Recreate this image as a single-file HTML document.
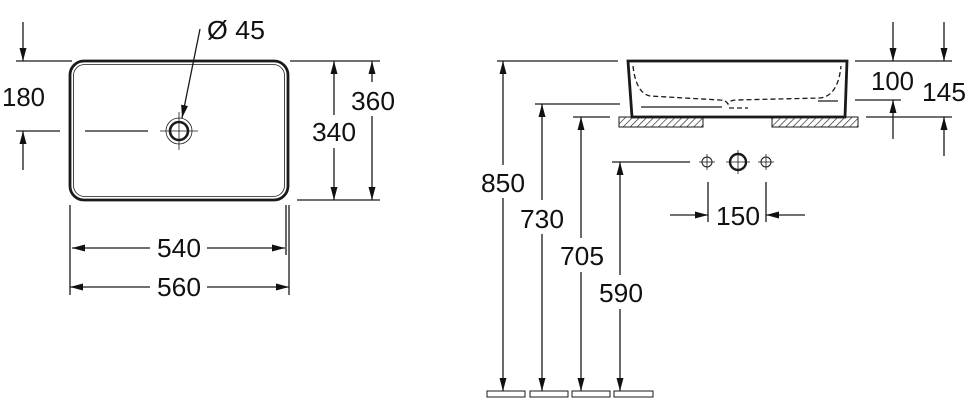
<!DOCTYPE html>
<html><head><meta charset="utf-8"><style>
html,body{margin:0;padding:0;background:#fff;width:970px;height:408px;overflow:hidden}
svg text{font-family:"Liberation Sans",sans-serif;font-size:26px;fill:#111}
</style></head><body>
<svg width="970" height="408" viewBox="0 0 970 408" xmlns="http://www.w3.org/2000/svg">
<defs>
<marker id="a" viewBox="0 0 13 7" refX="13" refY="3.5" markerWidth="13" markerHeight="7" markerUnits="userSpaceOnUse" orient="auto"><path d="M0,0 L13,3.5 L0,7 z" fill="#111"/></marker>
<pattern id="h" width="5" height="5" patternUnits="userSpaceOnUse" patternTransform="rotate(45)"><line x1="0" y1="0" x2="0" y2="5" stroke="#222" stroke-width="1.3"/></pattern>
</defs>
<g stroke="#1a1a1a" stroke-width="1.3" fill="none">
<rect x="70" y="61" width="218" height="139" rx="14" stroke-width="2.8"/>
<rect x="73.5" y="64.5" width="211" height="132" rx="11" stroke-width="0.8"/>
<circle cx="179" cy="131" r="9" stroke-width="2.6"/>
<circle cx="179" cy="131" r="13" stroke-width="0.8"/>
<line x1="160" y1="131" x2="198" y2="131" stroke-width="0.8"/>
<line x1="179" y1="112" x2="179" y2="150" stroke-width="0.8"/>
<line x1="85" y1="131" x2="148" y2="131"/>
<line x1="200" y1="29" x2="182" y2="118" marker-end="url(#a)"/>
<line x1="16" y1="61" x2="72" y2="61"/>
<line x1="16" y1="131" x2="60" y2="131"/>
<line x1="23" y1="22" x2="23" y2="61" marker-end="url(#a)"/>
<line x1="23" y1="170" x2="23" y2="131" marker-end="url(#a)"/>
<line x1="290" y1="61" x2="380" y2="61"/>
<line x1="297" y1="200" x2="380" y2="200"/>
<line x1="334" y1="115" x2="334" y2="61" marker-end="url(#a)"/>
<line x1="334" y1="148" x2="334" y2="200" marker-end="url(#a)"/>
<line x1="372" y1="82" x2="372" y2="61" marker-end="url(#a)"/>
<line x1="372" y1="116" x2="372" y2="200" marker-end="url(#a)"/>
<line x1="70" y1="205" x2="70" y2="295"/>
<line x1="286" y1="205" x2="286" y2="255"/>
<line x1="289" y1="205" x2="289" y2="295"/>
<line x1="150" y1="248" x2="72" y2="248" marker-end="url(#a)"/>
<line x1="207" y1="248" x2="285" y2="248" marker-end="url(#a)"/>
<line x1="150" y1="287" x2="70" y2="287" marker-end="url(#a)"/>
<line x1="207" y1="287" x2="289" y2="287" marker-end="url(#a)"/>
<path d="M628,61 L847,61 L845,117 L632,117 Z" stroke-width="2.8"/>
<path d="M633,66 Q636,93 650,96 L720,100 Q726,100 728,104 Q730,100 736,100 L820,98 Q838,96 841,66" stroke-dasharray="5,3"/>
<line x1="729" y1="108" x2="748" y2="108" stroke-dasharray="5,3"/>
<line x1="641" y1="107" x2="722" y2="107"/>
<line x1="818" y1="101" x2="838" y2="101"/>
<rect x="619" y="117" width="84" height="10" fill="url(#h)" stroke-width="1"/>
<rect x="772" y="117" width="86" height="10" fill="url(#h)" stroke-width="1"/>
<line x1="497" y1="61" x2="618" y2="61"/>
<line x1="535" y1="104" x2="620" y2="104"/>
<line x1="573" y1="117" x2="610" y2="117"/>
<line x1="612" y1="162" x2="690" y2="162"/>
<line x1="503" y1="165" x2="503" y2="61" marker-end="url(#a)"/>
<line x1="503" y1="198" x2="503" y2="391" marker-end="url(#a)"/>
<line x1="542" y1="200" x2="542" y2="104" marker-end="url(#a)"/>
<line x1="542" y1="234" x2="542" y2="391" marker-end="url(#a)"/>
<line x1="581" y1="238" x2="581" y2="117" marker-end="url(#a)"/>
<line x1="581" y1="272" x2="581" y2="391" marker-end="url(#a)"/>
<line x1="620" y1="275" x2="620" y2="162" marker-end="url(#a)"/>
<line x1="620" y1="309" x2="620" y2="391" marker-end="url(#a)"/>
<rect x="487" y="391" width="38" height="6" stroke-width="1"/>
<rect x="530" y="391" width="38" height="6" stroke-width="1"/>
<rect x="572" y="391" width="38" height="6" stroke-width="1"/>
<rect x="614" y="391" width="39" height="6" stroke-width="1"/>
<circle cx="707" cy="162" r="5" stroke-width="1"/>
<line x1="699" y1="162" x2="715" y2="162" stroke-width="0.8"/><line x1="707" y1="154" x2="707" y2="170" stroke-width="0.8"/>
<circle cx="738" cy="162" r="8" stroke-width="2.4"/>
<line x1="726" y1="162" x2="750" y2="162" stroke-width="0.8"/><line x1="738" y1="150" x2="738" y2="174" stroke-width="0.8"/>
<circle cx="766" cy="162" r="5" stroke-width="1"/>
<line x1="758" y1="162" x2="774" y2="162" stroke-width="0.8"/><line x1="766" y1="154" x2="766" y2="170" stroke-width="0.8"/>
<line x1="708" y1="182" x2="708" y2="222"/>
<line x1="766" y1="182" x2="766" y2="222"/>
<line x1="670" y1="215" x2="708" y2="215" marker-end="url(#a)"/>
<line x1="805" y1="215" x2="766" y2="215" marker-end="url(#a)"/>
<line x1="855" y1="61" x2="952" y2="61"/>
<line x1="855" y1="100" x2="901" y2="100"/>
<line x1="866" y1="117" x2="952" y2="117"/>
<line x1="893" y1="22" x2="893" y2="61" marker-end="url(#a)"/>
<line x1="893" y1="139" x2="893" y2="100" marker-end="url(#a)"/>
<line x1="944" y1="22" x2="944" y2="61" marker-end="url(#a)"/>
<line x1="944" y1="156" x2="944" y2="117" marker-end="url(#a)"/>
</g>
<g>
<text x="207" y="39" textLength="58" lengthAdjust="spacingAndGlyphs">Ø 45</text>
<text x="2" y="106" textLength="43" lengthAdjust="spacingAndGlyphs">180</text>
<text x="312" y="141" textLength="44" lengthAdjust="spacingAndGlyphs">340</text>
<text x="351" y="110" textLength="44" lengthAdjust="spacingAndGlyphs">360</text>
<text x="157" y="257" textLength="44" lengthAdjust="spacingAndGlyphs">540</text>
<text x="157" y="296" textLength="44" lengthAdjust="spacingAndGlyphs">560</text>
<text x="481" y="192" textLength="44" lengthAdjust="spacingAndGlyphs">850</text>
<text x="520" y="228" textLength="44" lengthAdjust="spacingAndGlyphs">730</text>
<text x="560" y="265" textLength="44" lengthAdjust="spacingAndGlyphs">705</text>
<text x="599" y="302" textLength="44" lengthAdjust="spacingAndGlyphs">590</text>
<text x="716" y="225" textLength="44" lengthAdjust="spacingAndGlyphs">150</text>
<text x="871" y="90" textLength="43" lengthAdjust="spacingAndGlyphs">100</text>
<text x="922" y="101" textLength="44" lengthAdjust="spacingAndGlyphs">145</text>
</g>
</svg>
</body></html>
